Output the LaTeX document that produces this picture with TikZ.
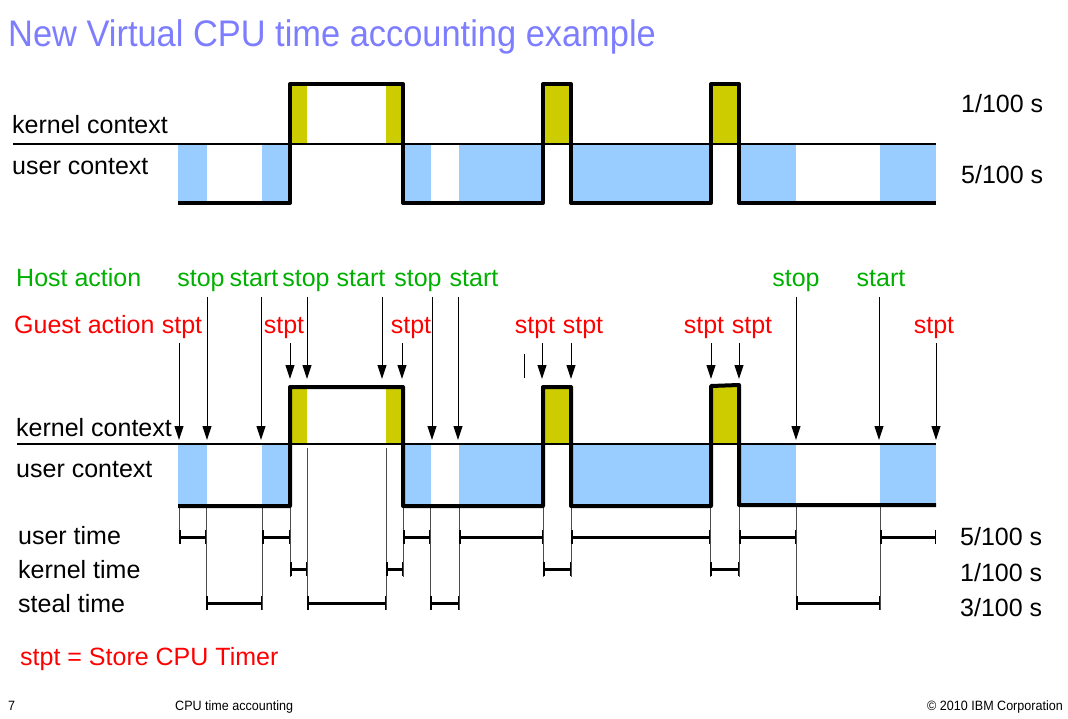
\documentclass[tikz,border=0pt]{standalone}
\usepackage{fontspec}
\setmainfont{Liberation Sans}
\newfontfamily\narrowfont[FakeStretch=0.93]{Liberation Sans}
\usetikzlibrary{arrows.meta, positioning}

\definecolor{titleblue}{RGB}{125,125,255}
\definecolor{hostgreen}{RGB}{0,176,0}
\definecolor{userblue}{RGB}{153,204,255}
\definecolor{kernyellow}{RGB}{204,204,0}

\begin{document}
\begin{tikzpicture}[x=1pt,y=-1pt,
    txt/.style={font=\fontsize{25}{30}\selectfont, inner sep=0pt, anchor=base west},
    host/.style={txt, anchor=base, text=hostgreen},
    guest/.style={txt, anchor=base, text=red},
    foot/.style={font=\narrowfont\fontsize{13.5}{15}\selectfont, inner sep=0pt, anchor=base west},
    wave/.style={line width=4pt, line join=round},
    ctxline/.style={line width=2pt},
    evt/.style={line width=1pt, -{Triangle[width=9pt,length=14pt]}},
    span/.style={line width=3pt, {Bar[width=14pt,line width=1.5pt]}-{Bar[width=14pt,line width=1.5pt]}},
    drop/.style={line width=0.8pt, black!70}]

  \useasboundingbox (0,0) rectangle (1068,719);

  % title
  \node[font=\narrowfont\fontsize{37}{40}\selectfont, text=titleblue, inner sep=0pt, anchor=base west] (title) at (8,47) {New Virtual CPU time accounting example};

  % ---------- upper picture ----------
  \foreach \a/\b in {178/207, 262/290, 403/431, 459/543, 571/711, 739/796, 880/936}{
    \fill[userblue] (\a,144) rectangle (\b,203);
  }
  \foreach \a/\b in {290/307, 386/403, 543/571, 711/739}{
    \fill[kernyellow] (\a,84) rectangle (\b,144);
  }
  \draw[ctxline] (13,144) -- (936,144);
  \draw[wave] (178,203) -- (290,203) -- (290,84) -- (403,84) -- (403,203) -- (543,203)
    -- (543,84) -- (571,84) -- (571,203) -- (711,203) -- (711,84) -- (739,84) -- (739,203) -- (936,203);

  \node[txt] (kctxA) at (12,134) {kernel context};
  \node[txt] (uctxA) at (12,175) {user context};
  \node[txt] (kpartA) at (961,113) {1/100 s};
  \node[txt] (upartA) at (961,184) {5/100 s};

  % ---------- lower picture ----------
  \foreach \a/\b in {178/207, 262/290, 403/431, 459/543, 571/711, 739/796, 880/936}{
    \fill[userblue] (\a,444) rectangle (\b,506);
  }
  \foreach \a/\b in {290/307, 386/403, 543/571, 711/739}{
    \fill[kernyellow] (\a,387) rectangle (\b,444);
  }

  % drop lines to the time rows
  \foreach \x/\y in {179/544, 206/610, 262/610, 290/577, 403/577, 430/610, 459/610,
                     543/577, 571/577, 710/577, 739/577, 796/610, 880/610}{
    \draw[drop] (\x,507) -- (\x,\y);
  }
  \foreach \x in {307,386}{
    \draw[drop] (\x,448) -- (\x,610);
  }

  \draw[ctxline] (17,444) -- (936,444);
  \draw[wave] (178,506) -- (290,506) -- (290,387) -- (403,387) -- (403,506) -- (543,506)
    -- (543,387) -- (571,387) -- (571,506) -- (711,506) -- (711,386) -- (739,385) -- (739,505) -- (936,505);

  \node[txt] (kctxB) at (16,436) {kernel context};
  \node[txt] (uctxB) at (16,477) {user context};

  % host and guest actions
  \node[txt, text=hostgreen] (hostlbl) at (16,287) {Host action};
  \node[txt, text=red] (guestlbl) at (14,333) {Guest action};

  \foreach \n/\x/\t in {1/201/stop, 2/254/start, 3/306/stop, 4/361/start,
                        5/418/stop, 6/474/start, 7/796/stop, 8/881/start}{
    \node[host] (h\n) at (\x,287) {\t};
  }
  \foreach \n/\x in {1/182, 2/284, 3/411, 4/535, 5/583, 6/704, 7/752, 8/934}{
    \node[guest] (g\n) at (\x,333) {stpt};
  }

  % event arrows
  \foreach \n/\x/\y in {1/207/440, 2/261/440, 3/307/379, 4/382/379,
                        5/432/440, 6/458/440, 7/796/440, 8/879/440}{
    \coordinate (hs\n) at (\x,297);
    \coordinate (he\n) at (\x,\y);
    \draw[evt] (hs\n) -- (he\n);
  }
  \foreach \n/\x/\y in {1/179/440, 2/290/379, 3/402/379, 4/542/379,
                        5/571/379, 6/711/379, 7/739/379, 8/936/440}{
    \coordinate (gs\n) at (\x,343);
    \coordinate (ge\n) at (\x,\y);
    \draw[evt] (gs\n) -- (ge\n);
  }
  \draw[line width=1pt] (524,354) -- (524,378);

  % time rows
  \foreach \a/\b in {179/206, 262/290, 403/430, 459/543, 571/710, 739/796, 880/936}{
    \draw[span] (\a,537) -- (\b,537);
  }
  \foreach \a/\b in {290/307, 386/403, 543/571, 710/739}{
    \draw[span] (\a,569) -- (\b,569);
  }
  \foreach \a/\b in {206/262, 307/386, 430/459, 796/880}{
    \draw[span] (\a,603) -- (\b,603);
  }

  \node[txt] (utime) at (18,544) {user time};
  \node[txt] (ktime) at (18,578) {kernel time};
  \node[txt] (stime) at (18,612) {steal time};
  \node[txt] (usum) at (960,545) {5/100 s};
  \node[txt] (ksum) at (960,581) {1/100 s};
  \node[txt] (ssum) at (960,616) {3/100 s};

  \node[txt, text=red] (legend) at (20,665) {stpt = Store CPU Timer};

  % footer
  \node[foot] (pageno) at (8,710) {7};
  \node[foot] (topic) at (175,710) {CPU time accounting};
  \node[foot, anchor=base east] (copy) at (1063,710) {© 2010 IBM Corporation};
\end{tikzpicture}
\end{document}
